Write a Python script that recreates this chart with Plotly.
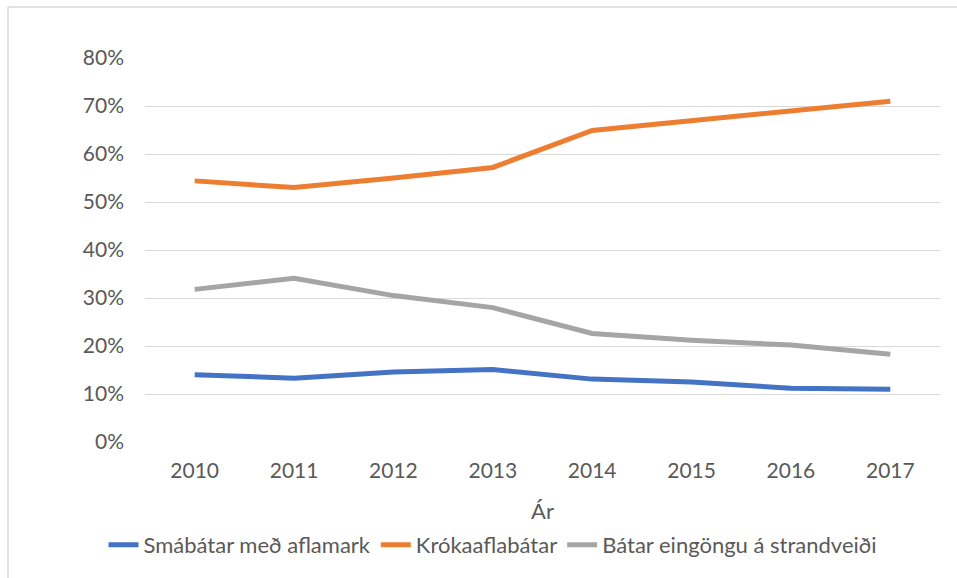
import plotly.graph_objects as go

years = ["2010", "2011", "2012", "2013", "2014", "2015", "2016", "2017"]
smabatar = [14.0, 13.3, 14.6, 15.1, 13.1, 12.5, 11.2, 11.0]
krokaafla = [54.4, 53.0, 55.0, 57.2, 64.9, 66.9, 69.0, 71.0]
strandveidi = [31.8, 34.1, 30.5, 28.0, 22.6, 21.2, 20.2, 18.3]
y_ticks = [0, 10, 20, 30, 40, 50, 60, 70, 80]
y_tick_labels = [f"{v}%" for v in y_ticks]

series = [
    ("Smábátar með aflamark", smabatar, "#4472C4"),
    ("Krókaaflabátar", krokaafla, "#ED7D31"),
    ("Bátar eingöngu á strandveiði", strandveidi, "#A5A5A5"),
]

fig = go.Figure()
for name, vals, col in series:
    fig.add_trace(go.Scatter(x=years, y=vals, name=name, mode="lines",
                             line=dict(color=col, width=5)))

W, H = 957, 578
L, R, T, B = 145, 17, 58, 136
pw, ph = W - L - R, H - T - B

font_col = "#595959"
fig.update_layout(
    width=W, height=H,
    margin=dict(l=L, r=R, t=T, b=B),
    paper_bgcolor="white", plot_bgcolor="white",
    font=dict(family="Lato", size=21, color=font_col),
    showlegend=True,
    legend=dict(orientation="h", x=(493 - L) / pw, xanchor="center",
                y=(T + ph - 545) / ph, yanchor="middle",
                font=dict(size=22, color=font_col), itemwidth=30,
                tracegroupgap=0),
    xaxis=dict(showgrid=False, showline=False, zeroline=False,
               range=[-0.5, 7.5],
               ticks="", ticklabelstandoff=14,
               title=dict(text="Ár", standoff=22, font=dict(size=22, color=font_col))),
    yaxis=dict(range=[0, 80], tickvals=y_ticks, ticktext=y_tick_labels,
               showgrid=True, gridcolor="#D9D9D9", gridwidth=1.3,
               zeroline=False, showline=False, ticks="",
               ticklabelstandoff=20),
    shapes=[
        dict(type="line", xref="paper", yref="paper",
             x0=(8 - L) / pw, x1=(W - L) / pw, y0=1 + (T - 7) / ph, y1=1 + (T - 7) / ph,
             line=dict(color="#D9D9D9", width=1.5)),
        dict(type="line", xref="paper", yref="paper",
             x0=(8 - L) / pw, x1=(8 - L) / pw, y0=1 + (T - 7) / ph, y1=-(H - T - ph) / ph,
             line=dict(color="#D9D9D9", width=1.5)),
    ],
)

fig.write_html("out.html", config={"displayModeBar": False},
               post_script="document.body.style.margin='0px';")
